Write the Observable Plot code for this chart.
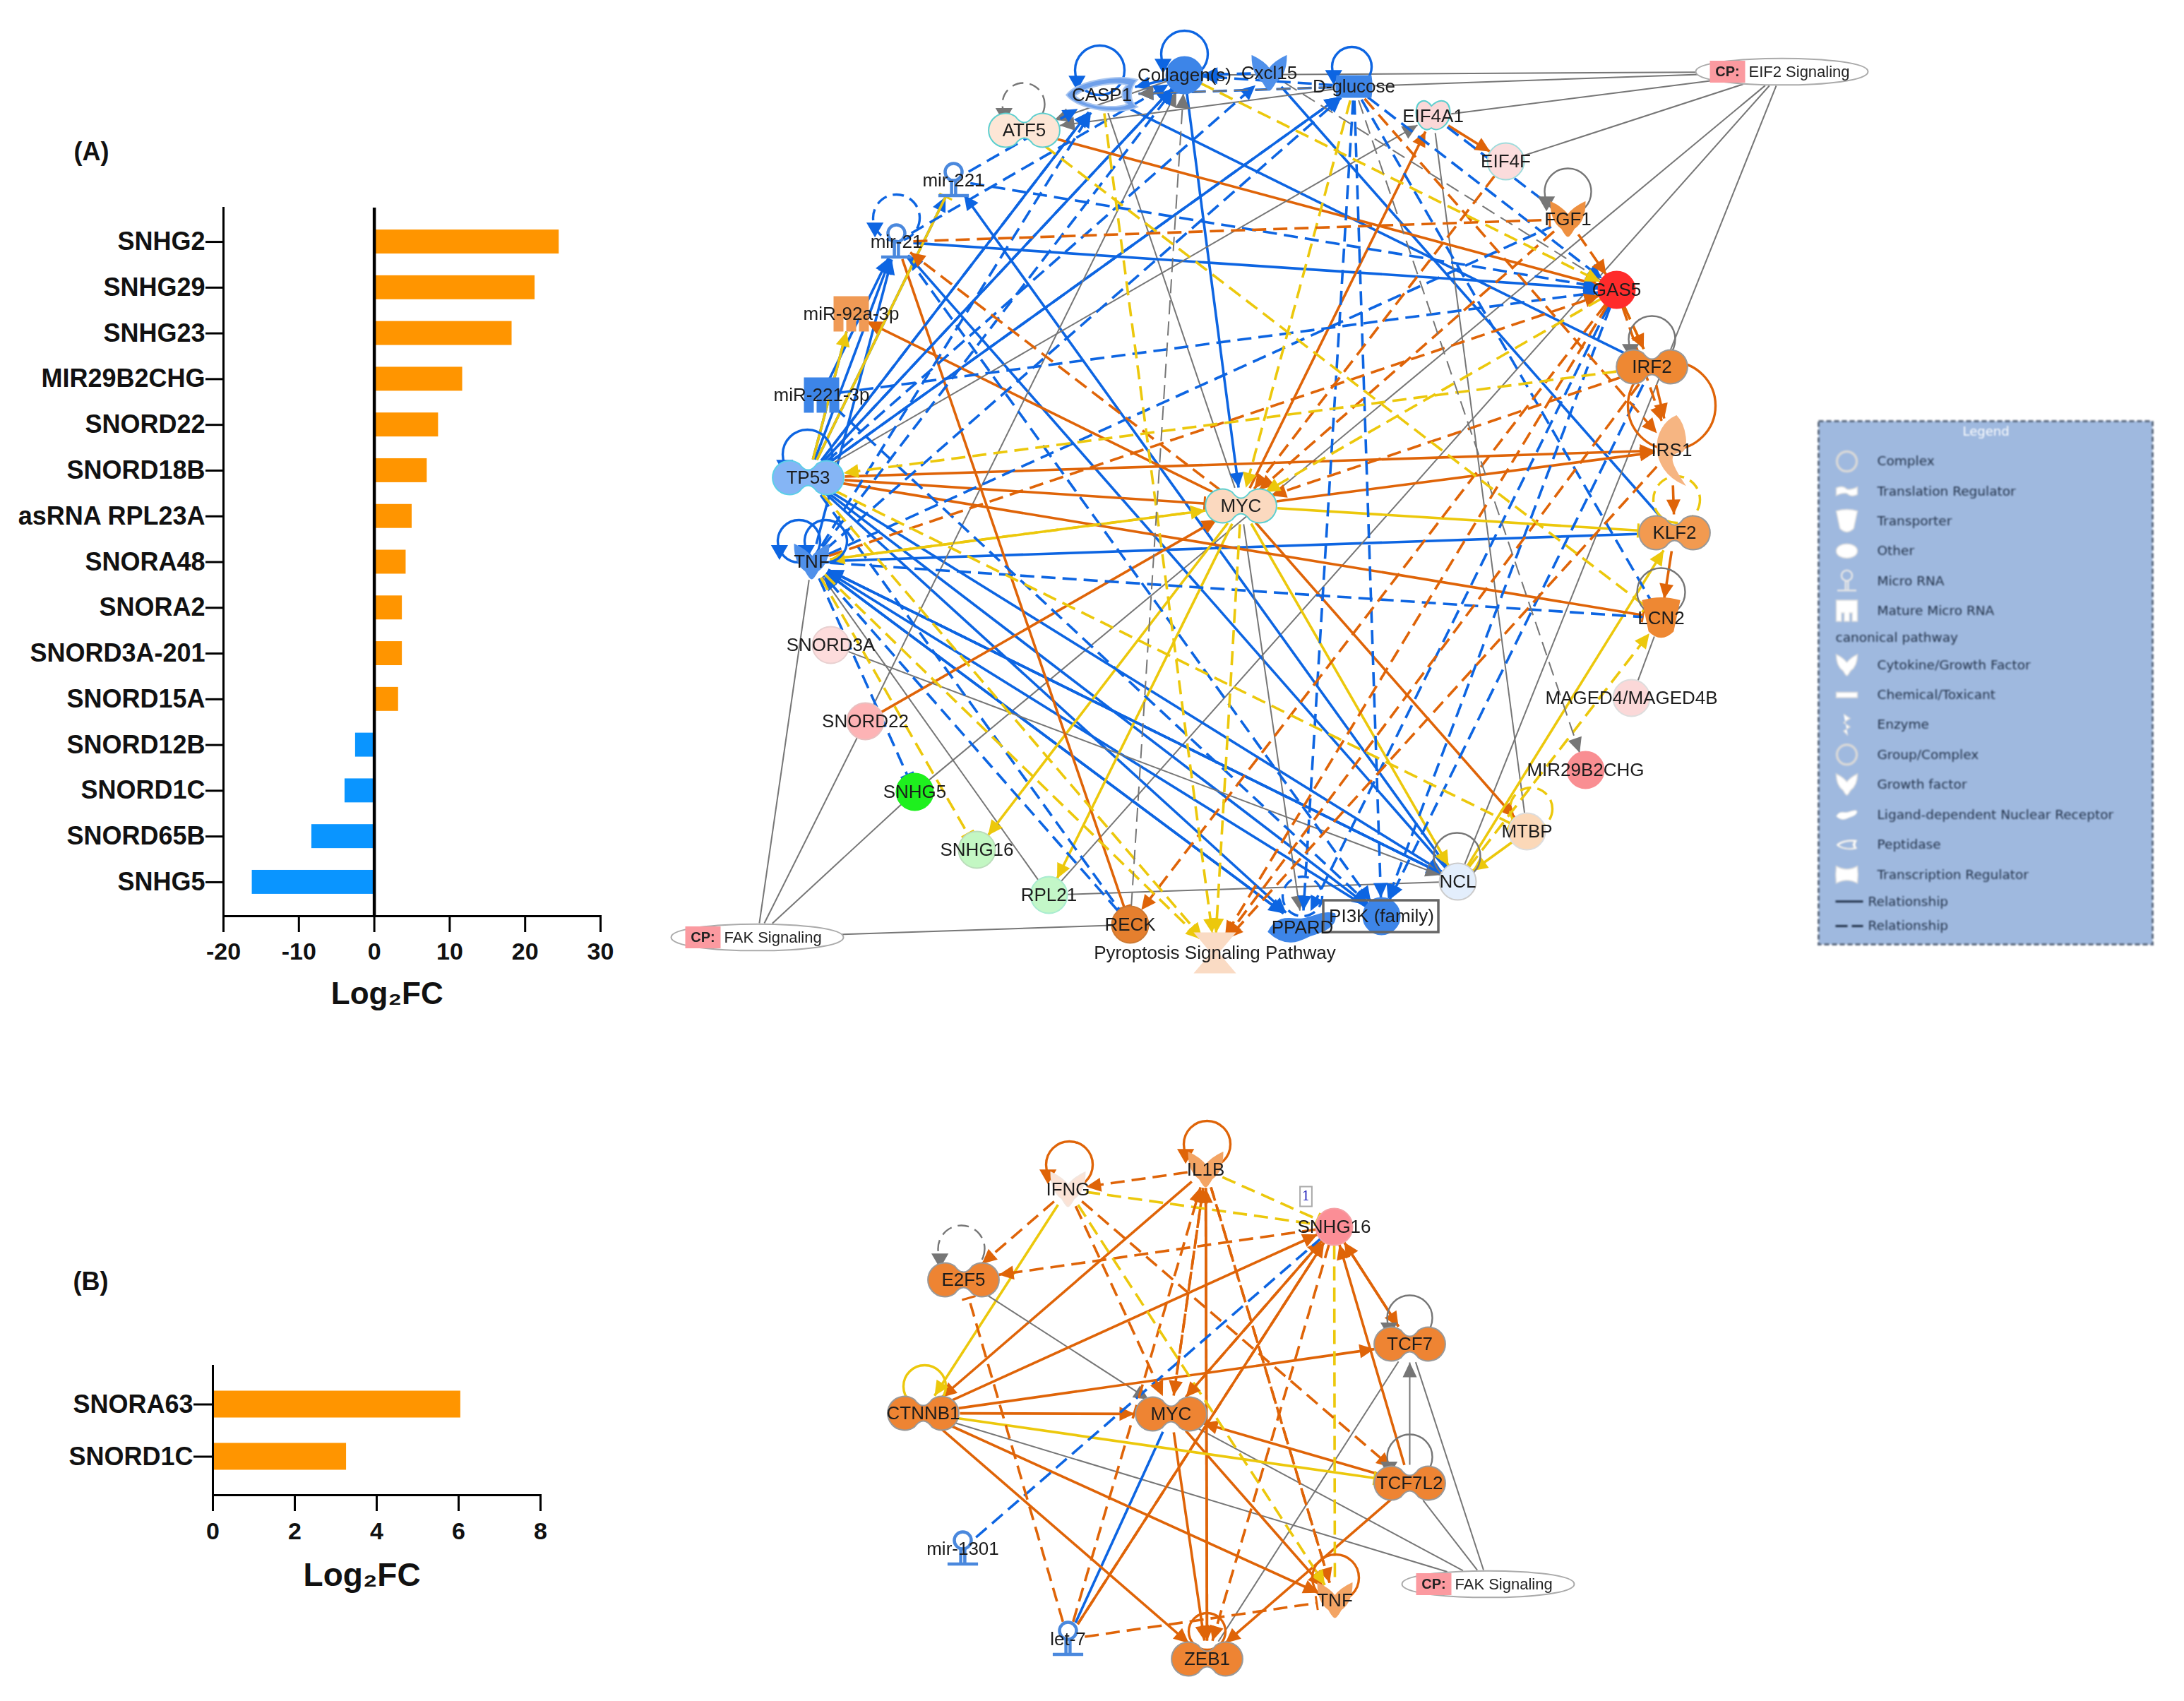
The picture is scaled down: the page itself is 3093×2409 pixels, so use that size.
<!DOCTYPE html>
<html><head><meta charset="utf-8">
<script src="https://cdn.jsdelivr.net/npm/d3@7"></script>
<script src="https://cdn.jsdelivr.net/npm/@observablehq/plot@0.6"></script>
<style>
html,body{margin:0;background:#fff}
#page{position:relative;width:3093px;height:2409px;overflow:hidden;background:#fff}
#page>svg{position:absolute;overflow:visible}
</style></head><body><div id="page"></div>
<script>
// ---------- bar chart data ----------
const barNamesA = ["SNHG2","SNHG29","SNHG23","MIR29B2CHG","SNORD22","SNORD18B","asRNA RPL23A","SNORA48","SNORA2","SNORD3A-201","SNORD15A","SNORD12B","SNORD1C","SNORD65B","SNHG5"];
const barValuesA = [24.5,21.3,18.25,11.7,8.5,7.0,5.0,4.2,3.7,3.7,3.2,-2.5,-3.9,-8.3,-16.2];
const ticksA = [-20,-10,0,10,20,30];
const barNamesB = ["SNORA63","SNORD1C"];
const barValuesB = [6.05,3.26];
const ticksB = [0,2,4,6,8];

// ---------- network A: id, label, x, y, shape, fill, outline ----------
const nodesA = [
["ATF5","ATF5",1450,184,"twin","#fde6d6","#5ccfcf"],
["CASP1","CASP1",1560,134,"peptidase","#6fa0ea","#a9c6f0"],
["COL","Collagen(s)",1677,106,"circle","#3d85e8","#3d85e8"],
["CXC","Cxcl15",1797,103,"cytokine","#4f90ea","#4f90ea"],
["GLU","D-glucose",1917,122,"chemical","#3d85e8","#3d85e8"],
["E4A","EIF4A1",2029,164,"peanut","#fbd8d8","#5ccfcf"],
["E4F","EIF4F",2132,228,"circle","#fbdcdc","#9fdcdc"],
["FGF1","FGF1",2220,310,"cytokine","#ee9040","#ee9040"],
["GAS5","GAS5",2289,410,"circle","#ff2b2b","#ff2b2b"],
["IRF2","IRF2",2339,519,"twin","#ee8833","#999999"],
["IRS1","IRS1",2367,637,"crescent","#f6b582","#f6b582"],
["KLF2","KLF2",2371,754,"twin","#f29a50","#999999"],
["LCN2","LCN2",2352,875,"cup","#ee8833","#ee8833"],
["MAG","MAGED4/MAGED4B",2310,988,"circle","#fbd8d8","#dddddd"],
["M29","MIR29B2CHG",2245,1090,"circle","#f98e92","#f98e92"],
["MTBP","MTBP",2162,1177,"circle","#fbd8b8","#dddddd"],
["NCL","NCL",2064,1248,"circle","#e3eefc","#cccccc"],
["PI3K","PI3K (family)",1956,1297,"circle","#3d85e8","#3d85e8"],
["PPARD","PPARD",1844,1313,"ligand","#3d85e8","#3d85e8"],
["PYR","Pyroptosis Signaling Pathway",1720,1349,"hourglass","#fadbc4","#fadbc4"],
["RECK","RECK",1600,1309,"circle","#e57f2e","#cc7a33"],
["RPL","RPL21",1485,1267,"circle","#c3f7c8","#a8ecd0"],
["S16","SNHG16",1383,1203,"circle","#c3f7c3","#bbddbb"],
["S5","SNHG5",1295,1121,"circle","#1ef01e","#1ef01e"],
["S22","SNORD22",1225,1021,"circle","#fdb3b5","#e8c0c0"],
["S3A","SNORD3A",1176,913,"circle","#fddcdc","#e8d0d0"],
["TNF","TNF",1149,795,"cytokine","#4f90ea","#4f90ea"],
["TP53","TP53",1144,676,"twin","#85b5f5","#5ccfe8"],
["M2213","miR-221-3p",1163,559,"mature","#3d85e8","#3d85e8"],
["M92","miR-92a-3p",1205,444,"mature","#f09a55","#f09a55"],
["M21","mir-21",1269,342,"mirna","none","#4a88dd"],
["M221","mir-221",1350,255,"mirna","none","#4a88dd"],
["MYC","MYC",1757,716,"twin","#fbd9bf","#5ccfcf"]
];
const cpNodesA = [["CPE","EIF2 Signaling",2523,101],["CPF","FAK Signaling",1072,1327]];
const framesA = [[1874,1275,2037,1320]];

// ---------- relationships: from, to, prediction, style, end ----------
const UP="activation", DN="inhibition", MX="inconsistent", NA="unpredicted";
const edgesA = [
["TP53","CASP1",DN,"s","a"],["TP53","COL",DN,"s","a"],["TP53","GLU",DN,"s","a"],["TP53","M21",DN,"s","a"],
["TP53","M221",DN,"s","a"],["TNF","M21",DN,"s","a"],["CASP1","IRF2",DN,"s","n"],["CXC","KLF2",DN,"s","n"],
["M21","GAS5",DN,"s","a"],["COL","MYC",DN,"s","a"],["NCL","M221",DN,"s","a"],["NCL","M21",DN,"s","a"],
["NCL","TNF",DN,"s","a"],["PPARD","TNF",DN,"s","a"],["PI3K","TNF",DN,"s","a"],["KLF2","TNF",DN,"s","n"],
["TP53","PI3K",DN,"s","a"],["TP53","PPARD",DN,"s","a"],["TP53","NCL",DN,"s","a"],["TNF","NCL",DN,"s","a"],
["TNF","PPARD",DN,"s","a"],["M2213","M21",DN,"s","a"],["TP53","M92",DN,"s","n"],
["M221","CASP1",DN,"d","a"],["M221","GAS5",DN,"d","a"],["M21","COL",DN,"d","a"],["TP53","GLU",DN,"d","a"],
["TP53","CXC",DN,"d","a"],["TP53","COL",DN,"d","a"],["TP53","CASP1",DN,"d","a"],["TNF","COL",DN,"d","a"],
["TNF","CASP1",DN,"d","a"],["TNF","GLU",DN,"d","a"],["M2213","GAS5",DN,"d","a"],["TNF","FGF1",DN,"d","n"],
["TNF","LCN2",DN,"d","n"],["TNF","S5",DN,"d","b"],["RECK","TNF",DN,"d","a"],["NCL","TNF",DN,"d","a"],
["GLU","PPARD",DN,"d","a"],["GLU","PI3K",DN,"d","a"],["GAS5","PI3K",DN,"d","a"],["IRF2","PI3K",DN,"d","a"],
["GAS5","PPARD",DN,"d","a"],["GLU","GAS5",DN,"d","a"],["E4A","FGF1",DN,"d","n"],["GLU","LCN2",DN,"d","n"],
["M21","PI3K",DN,"d","a"],["M2213","PI3K",DN,"d","a"],["TP53","RECK",DN,"d","n"],["GLU","CASP1",DN,"d","a"],
["COL","CASP1",DN,"s","a"],["CXC","COL",DN,"d","a"],["GLU","COL",DN,"d","a"],
["ATF5","GAS5",UP,"s","a"],["TP53","IRS1",UP,"s","a"],["TP53","LCN2",UP,"s","b"],["MYC","IRS1",UP,"s","a"],
["TP53","MYC",UP,"s","b"],["MYC","M92",UP,"s","a"],["M21","RECK",UP,"s","b"],["S22","MYC",UP,"s","a"],
["MYC","MTBP",UP,"s","a"],["MYC","E4A",UP,"s","a"],["IRS1","KLF2",UP,"s","a"],["KLF2","LCN2",UP,"s","a"],
["IRF2","IRS1",UP,"s","a"],["E4A","E4F",UP,"s","a"],
["TNF","GAS5",UP,"d","a"],["MYC","M21",UP,"d","a"],["M21","FGF1",UP,"d","b"],["E4F","MYC",UP,"d","a"],
["FGF1","GAS5",UP,"d","a"],["GAS5","IRF2",UP,"d","a"],["GAS5","RECK",UP,"d","a"],["IRF2","PYR",UP,"d","a"],
["IRS1","PYR",UP,"d","a"],["GAS5","PYR",UP,"d","a"],["GLU","IRS1",UP,"d","a"],["FGF1","MYC",UP,"d","a"],
["IRF2","MYC",UP,"d","a"],["GAS5","IRS1",UP,"d","a"],
["MYC","S16",MX,"s","a"],["MYC","RPL",MX,"s","a"],["TNF","MYC",MX,"s","a"],["MYC","KLF2",MX,"s","b"],
["MYC","NCL",MX,"s","a"],["NCL","KLF2",MX,"s","a"],["MTBP","NCL",MX,"s","a"],["TP53","M92",MX,"s","a"],
["TP53","M221",MX,"s","b"],
["TNF","S16",MX,"d","b"],["TNF","PYR",MX,"d","a"],["TP53","PYR",MX,"d","a"],["TP53","MTBP",MX,"d","b"],
["ATF5","LCN2",MX,"d","b"],["CASP1","PYR",MX,"d","a"],["COL","GAS5",MX,"d","a"],["GLU","MYC",MX,"d","a"],
["IRF2","TP53",MX,"d","a"],["GAS5","MYC",MX,"d","a"],["MYC","PYR",MX,"d","a"],["GAS5","IRF2",MX,"d","n"],
["NCL","LCN2",MX,"d","a"],["MYC","TNF",MX,"d","a"],
["CPE","E4A",NA,"s","n"],["CPE","GLU",NA,"s","n"],["CPE","COL",NA,"s","n"],["CPE","E4F",NA,"s","n"],
["CPE","RPL",NA,"s","n"],["CPE","NCL",NA,"s","n"],["CPE","S5",NA,"s","n"],
["CPF","TNF",NA,"s","n"],["CPF","S22",NA,"s","n"],["CPF","S5",NA,"s","n"],["CPF","RECK",NA,"s","n"],
["RPL","NCL",NA,"s","n"],["S22","COL",NA,"s","a"],["TP53","E4A",NA,"s","a"],["S3A","NCL",NA,"s","a"],
["TNF","RPL",NA,"s","n"],["E4A","MTBP",NA,"s","n"],["CASP1","MYC",NA,"s","n"],["MYC","PPARD",NA,"s","a"],
["GLU","ATF5",NA,"s","a"],["COL","ATF5",NA,"s","a"],["LCN2","MAG",NA,"s","n"],["RECK","COL",NA,"d","a"],
["GLU","M29",NA,"d","a"],["CXC","GAS5",NA,"d","n"],["TNF","S5",NA,"d","n"],["GLU","CASP1",NA,"d","a"]
];
// self-relationships: x, y, radius, prediction, style, has arrow
const loopsA = [
[1449,147,30,NA,"d",1],[1557,99,35,DN,"s",1],[1677,76,33,DN,"s",1],[1914,94,28,DN,"s",1],
[1143,643,35,DN,"s",1],[1269,308,33,DN,"d",1],[2220,271,33,NA,"s",1],[2339,480,33,NA,"s",1],
[2374,707,33,MX,"d",0],[2352,838,34,NA,"s",0],[2063,1212,33,NA,"s",0],[2168,1145,30,MX,"d",0],
[1844,1269,28,DN,"d",0],[1131,766,30,DN,"s",1],[1169,766,30,DN,"s",1],[2367,574,62,UP,"s",0]
];

// ---------- network B ----------
const nodesB = [
["IFNG","IFNG",1512,1684,"cytokine","#fbe3d6","#f3e6de"],
["IL1B","IL1B",1707,1656,"cytokine","#f3a464","#f3a464"],
["S16","SNHG16",1889,1737,"circle","#fb8e96","#f5a0a5"],
["E2F5","E2F5",1364,1812,"twin","#ee8433","#999999"],
["TCF7","TCF7",1996,1903,"twin","#ee8433","#999999"],
["CTNNB1","CTNNB1",1307,2001,"twin","#ee8433","#999999"],
["MYC","MYC",1658,2002,"twin","#ee8433","#999999"],
["TCF7L2","TCF7L2",1996,2100,"twin","#ee8433","#999999"],
["M1301","mir-1301",1363,2193,"mirna","none","#4a88dd"],
["TNF","TNF",1890,2266,"cytokine","#f3a464","#f3a464"],
["LET7","let-7",1512,2321,"mirna","none","#4a88dd"],
["ZEB1","ZEB1",1709,2349,"twin","#ee8433","#999999"]
];
const cpNodesB = [["CPF","FAK Signaling",2107,2243]];
const findingTagB = [["1",1849,1694]];
const edgesB = [
["IL1B","IFNG",UP,"d","a"],["IL1B","CTNNB1",UP,"s","a"],["LET7","IL1B",UP,"d","a"],["ZEB1","IL1B",UP,"s","a"],
["IL1B","ZEB1",UP,"s","a"],["MYC","IL1B",UP,"d","a"],["IL1B","TNF",UP,"d","a"],["IL1B","S16",MX,"d","b"],
["IFNG","S16",MX,"d","n"],["S16","E2F5",UP,"d","a"],["IFNG","E2F5",UP,"d","a"],["IFNG","CTNNB1",MX,"s","a"],
["IFNG","MYC",UP,"d","a"],["IFNG","TNF",MX,"d","a"],["IFNG","TCF7L2",UP,"d","a"],["E2F5","MYC",NA,"s","a"],
["CTNNB1","S16",UP,"s","a"],["CTNNB1","TCF7",UP,"s","a"],["CTNNB1","MYC",UP,"s","a"],["CTNNB1","TCF7L2",MX,"s","b"],
["CTNNB1","ZEB1",UP,"s","a"],["CTNNB1","TNF",UP,"s","a"],["CTNNB1","CPF",NA,"s","n"],["MYC","S16",UP,"s","a"],
["MYC","TNF",UP,"s","a"],["MYC","ZEB1",UP,"s","a"],["MYC","CPF",NA,"s","n"],["M1301","S16",DN,"d","n"],
["LET7","MYC",DN,"s","n"],["LET7","S16",UP,"s","a"],["LET7","E2F5",UP,"d","b"],["LET7","TNF",UP,"d","b"],
["TCF7L2","MYC",UP,"s","a"],["TCF7L2","S16",UP,"s","a"],["TCF7L2","ZEB1",UP,"s","a"],["TCF7L2","TCF7",NA,"s","a"],
["TCF7","S16",UP,"s","a"],["S16","TCF7",UP,"s","a"],["TCF7","ZEB1",NA,"s","n"],["CPF","TCF7",NA,"s","n"],
["CPF","TCF7L2",NA,"s","n"],["S16","TNF",MX,"d","n"],["S16","ZEB1",UP,"d","a"],["S16","LET7",UP,"d","n"],
["S16","MYC",UP,"d","a"],["IL1B","MYC",UP,"d","a"],["TNF","IL1B",UP,"d","n"]
];
const loopsB = [
[1514,1649,33,UP,"s",1],[1709,1620,33,UP,"s",1],[1361,1768,33,NA,"d",1],[1996,1866,32,NA,"s",1],
[1996,2063,32,NA,"s",1],[1309,1963,30,MX,"s",0],[1709,2310,26,UP,"s",0],[1891,2234,33,UP,"s",0]
];

// ---------- legend ----------
const legendTitle = "Legend";
const legendLabels = ["Complex","Translation Regulator","Transporter","Other","Micro RNA","Mature Micro RNA","canonical pathway","Cytokine/Growth Factor","Chemical/Toxicant","Enzyme","Group/Complex","Growth factor","Ligand-dependent Nuclear Receptor","Peptidase","Transcription Regulator","Relationship","Relationship"];
const legendRowPlace = [0,1,2,3,4,5,5.9,6.82,7.82,8.82,9.82,10.82,11.84,12.84,13.84,14.74,15.56];
const legendIcons = ["ring","wiggle","cup","ellipse","mirna","mature",null,"cytokine","dash","squiggle","ring","cytokine","ligand","peptidase","bowtie",null,null];

// ---------- shapes ----------
const rOf = s => Math.sqrt(s/Math.PI);
const shapes = {
 circle:d3.symbolCircle,
 ring:d3.symbolCircle,
 ellipse:{draw(c,s){const r=rOf(s);c.moveTo(r,0);c.bezierCurveTo(r,-.9*r,-r,-.9*r,-r,0);c.bezierCurveTo(-r,.9*r,r,.9*r,r,0);c.closePath();}},
 twin:{draw(c,s){const r=rOf(s),d=1.1*r,t=.95,cx=r*Math.cos(t),sy=r*Math.sin(t);
   c.moveTo(-d+cx,-sy);c.arc(-d,0,r,-t,t,true);c.quadraticCurveTo(0,.1*r,d-cx,sy);
   c.arc(d,0,r,Math.PI-t,-Math.PI+t,true);c.quadraticCurveTo(0,-.1*r,-d+cx,-sy);c.closePath();}},
 peanut:{draw(c,s){const r=rOf(s);c.moveTo(-.1*r,-.6*r);c.bezierCurveTo(-.4*r,-1.1*r,-r,-r,-r,-.2*r);c.bezierCurveTo(-r,.5*r,-.5*r,r,-.1*r,.7*r);
   c.bezierCurveTo(.3*r,r,r,.5*r,r,-.2*r);c.bezierCurveTo(r,-r,.4*r,-1.1*r,-.1*r,-.6*r);c.closePath();}},
 cytokine:{draw(c,s){const r=rOf(s);c.moveTo(-r,-r);c.quadraticCurveTo(-.35*r,-.7*r,0,-.25*r);c.quadraticCurveTo(.35*r,-.7*r,r,-r);
   c.quadraticCurveTo(r,.1*r,.35*r,.55*r);c.quadraticCurveTo(.1*r,r,0,r);c.quadraticCurveTo(-.1*r,r,-.35*r,.55*r);c.quadraticCurveTo(-r,.1*r,-r,-r);c.closePath();}},
 peptidase:{draw(c,s){const r=rOf(s);c.moveTo(-2.1*r,0);c.bezierCurveTo(-1.4*r,-.9*r,1*r,-1.2*r,2.1*r,-.9*r);c.bezierCurveTo(1.6*r,-.4*r,1.6*r,.4*r,2.1*r,.7*r);
   c.bezierCurveTo(1*r,1.2*r,-1.4*r,.9*r,-2.1*r,0);c.closePath();
   c.moveTo(-1.6*r,.05*r);c.bezierCurveTo(-.8*r,.75*r,.8*r,.8*r,1.5*r,.55*r);c.bezierCurveTo(1.1*r,.2*r,1.1*r,-.3*r,1.5*r,-.6*r);c.bezierCurveTo(.8*r,-.8*r,-.8*r,-.6*r,-1.6*r,.05*r);c.closePath();}},
 chemical:{draw(c,s){const r=rOf(s);c.moveTo(-r,-.62*r);c.lineTo(r,-.62*r);c.quadraticCurveTo(1.1*r,0,r,.62*r);c.lineTo(-r,.62*r);c.quadraticCurveTo(-1.1*r,0,-r,-.62*r);c.closePath();}},
 dash:{draw(c,s){const r=rOf(s);c.moveTo(-r,-.25*r);c.lineTo(r,-.25*r);c.lineTo(r,.25*r);c.lineTo(-r,.25*r);c.closePath();}},
 crescent:{draw(c,s){const r=rOf(s);c.moveTo(.3*r,-2.2*r);c.bezierCurveTo(-1.3*r,-1.5*r,-1.5*r,1.2*r,.8*r,2.2*r);c.bezierCurveTo(0,r,-.4*r,.2*r,.6*r,.1*r);c.bezierCurveTo(1.1*r,0,.9*r,-1.6*r,.3*r,-2.2*r);c.closePath();}},
 cup:{draw(c,s){const r=rOf(s);c.moveTo(-r,-r*.95);c.quadraticCurveTo(0,-1.25*r,r,-r*.95);c.lineTo(.65*r,.7*r);c.quadraticCurveTo(0,1.35*r,-.65*r,.7*r);c.closePath();}},
 hourglass:{draw(c,s){const r=rOf(s);c.moveTo(-r,-r);c.lineTo(r,-r);c.lineTo(.15*r,0);c.lineTo(r,r);c.lineTo(-r,r);c.lineTo(-.15*r,0);c.closePath();}},
 bowtie:{draw(c,s){const r=rOf(s);c.moveTo(-r,-.8*r);c.quadraticCurveTo(0,-.25*r,r,-.8*r);c.quadraticCurveTo(1.1*r,0,r,.8*r);c.quadraticCurveTo(0,.25*r,-r,.8*r);c.quadraticCurveTo(-1.1*r,0,-r,-.8*r);c.closePath();}},
 wiggle:{draw(c,s){const r=rOf(s);c.moveTo(-r,-.3*r);c.quadraticCurveTo(-.4*r,-.6*r,0,-.2*r);c.quadraticCurveTo(.4*r,-.1*r,r,-.4*r);c.lineTo(r,.3*r);c.quadraticCurveTo(.4*r,.6*r,0,.2*r);c.quadraticCurveTo(-.4*r,.1*r,-r,.4*r);c.closePath();}},
 squiggle:{draw(c,s){const r=rOf(s);c.moveTo(-.3*r,-r);c.lineTo(.3*r,-.6*r);c.lineTo(-.3*r,-.2*r);c.lineTo(.3*r,.2*r);c.lineTo(-.3*r,.6*r);c.lineTo(.1*r,r);}},
 ligand:{draw(c,s){const r=rOf(s);c.moveTo(-r*2,.25*r);c.bezierCurveTo(-1.4*r,-.9*r,-.5*r,-.4*r,0,-.5*r);c.bezierCurveTo(.7*r,-.6*r,1.2*r,-r,1.9*r,-.8*r);c.bezierCurveTo(2.1*r,0,1*r,.3*r,.4*r,.5*r);c.bezierCurveTo(-.2*r,.8*r,-1*r,1.2*r,-r*2,.25*r);c.closePath();}},
 mature:{draw(c,s){const r=rOf(s),w=.5*r;c.moveTo(-r,-r);c.lineTo(r,-r);c.lineTo(r,r);c.lineTo(r-w,r);c.lineTo(r-w,.2*r);c.lineTo(.25*r,.2*r);c.lineTo(.25*r,r);c.lineTo(-.25*r,r);c.lineTo(-.25*r,.2*r);c.lineTo(-r+w,.2*r);c.lineTo(-r+w,r);c.lineTo(-r,r);c.closePath();}},
 mirna:{draw(c,s){const r=rOf(s);c.moveTo(.5*r,-.5*r);c.arc(0,-.5*r,.5*r,0,2*Math.PI);c.moveTo(-.12*r,0);c.lineTo(-.12*r,.9*r);c.moveTo(.12*r,0);c.lineTo(.12*r,.9*r);c.moveTo(-.9*r,.9*r);c.lineTo(.9*r,.9*r);}},
 box:{draw(c,s){const r=rOf(s);c.moveTo(-r,-.62*r);c.lineTo(r,-.62*r);c.lineTo(r,.62*r);c.lineTo(-r,.62*r);c.closePath();}},
 tag:{draw(c,s){const r=rOf(s);c.moveTo(-.6*r,-r);c.lineTo(.6*r,-r);c.lineTo(.6*r,r);c.lineTo(-.6*r,r);c.closePath();}},
 wide:{draw(c,s){const r=rOf(s),k=.155*r;c.moveTo(r,0);c.bezierCurveTo(r,-k*1.33,-r,-k*1.33,-r,0);c.bezierCurveTo(-r,k*1.33,r,k*1.33,r,0);c.closePath();}}
};
const shapeSize = {circle:26,twin:24,peanut:24,cytokine:24,peptidase:24,chemical:24,crescent:22,cup:26,hourglass:28,ligand:24,mature:24,mirna:24};
const extent = {circle:[26,26],twin:[52,26],peanut:[26,24],cytokine:[26,26],peptidase:[52,26],chemical:[30,20],crescent:[24,50],cup:[26,28],hourglass:[28,28],ligand:[48,24],mature:[24,26],mirna:[24,26],cp:[120,20]};

// ---------- arrow / bar line ends ----------
const svgNS = "http://www.w3.org/2000/svg";
function lineEnd(kind){
  return (color, ctx) => {
    const m = ctx.document.createElementNS(svgNS,"marker");
    m.setAttribute("viewBox","-24 -14 28 28");
    m.setAttribute("markerWidth",28);m.setAttribute("markerHeight",28);
    m.setAttribute("markerUnits","userSpaceOnUse");m.setAttribute("orient","auto");
    m.setAttribute("refX",0);m.setAttribute("refY",0);
    const p = ctx.document.createElementNS(svgNS,"path");
    if (kind==="a"){p.setAttribute("d","M-21,-10L0,0L-21,10Z");p.setAttribute("fill",color);p.setAttribute("stroke","none");}
    else {p.setAttribute("d","M0,-10L0,10");p.setAttribute("fill","none");p.setAttribute("stroke",color);p.setAttribute("stroke-width",3);}
    m.appendChild(p);
    return m;
  };
}

const relDomain = [UP,DN,MX,NA];
const relRange = ["#df6408","#0d65e2","#ecc80c","#767676"];

function prepEdges(rows, nodes){
  const idx = new Map(nodes.map(n=>[n.id,n]));
  return rows.map(([a,b,rel,style,end])=>{
    const s=idx.get(a), t=idx.get(b);
    const dx=t.x-s.x, dy=t.y-s.y, L=Math.hypot(dx,dy), ux=dx/L, uy=dy/L;
    const hit=n=>{const [ea,eb]=extent[n.shape]; return 1/Math.hypot(ux/ea,uy/eb);};
    const ts=hit(s), te=hit(t);
    return {x1:s.x+ux*ts,y1:s.y+uy*ts,x2:t.x-ux*te,y2:t.y-uy*te,rel,style,end,w:rel===NA?2:3.6};
  });
}

function network(nodeRows, cpRows, edgeRows, loopRows, frames, tags, ox, oy, w, h){
  const nodes = nodeRows.map(([id,label,x,y,shape,fill,stroke])=>({id,label,x,y,shape,fill,stroke}));
  const cps = cpRows.map(([id,label,x,y])=>({id,label,x,y,shape:"cp"}));
  const edges = prepEdges(edgeRows,[...nodes,...cps]);
  const loops = loopRows.map(([x,y,r,rel,style,arrow])=>({x,y,r,rel,style,arrow}));
  const marks = [];
  for (const style of ["s","d"]) for (const end of ["n","a","b"]) {
    const sub = edges.filter(e=>e.style===style && e.end===end);
    if (!sub.length) continue;
    marks.push(Plot.link(sub,{x1:"x1",y1:"y1",x2:"x2",y2:"y2",stroke:"rel",strokeWidth:"w",
      strokeDasharray: style==="d"?"20,10":null, markerEnd: end==="n"?null:lineEnd(end)}));
  }
  for (const style of ["s","d"]) {
    const sub = loops.filter(l=>l.style===style);
    if (!sub.length) continue;
    marks.push(Plot.dot(sub,{x:"x",y:"y",r:"r",fill:"none",stroke:"rel",strokeWidth:d=>d.rel===NA?2.4:3.4,strokeDasharray:style==="d"?"16,9":null}));
  }
  marks.push(Plot.dot(loops.filter(l=>l.arrow),{x:d=>d.x-d.r*.92,y:d=>d.y+d.r*.42,r:9,symbol:"triangle",rotate:180,fill:"rel",stroke:null}));
  for (const shape of Object.keys(shapeSize)) {
    const sub = nodes.filter(n=>n.shape===shape);
    if (!sub.length) continue;
    const lineOnly = shape==="mirna";
    marks.push(Plot.dot(sub,{x:"x",y:"y",r:shapeSize[shape],symbol:shapes[shape],
      fill:lineOnly?"none":d=>d.fill,stroke:d=>d.stroke,strokeWidth:lineOnly?4.5:2}));
  }
  marks.push(Plot.dot(cps,{x:"x",y:"y",r:122,symbol:shapes.wide,fill:"#fff",stroke:"#aaa",strokeWidth:2}));
  marks.push(Plot.dot(cps,{x:"x",y:"y",dx:-77,r:25,symbol:shapes.box,fill:"#fb9aa0",stroke:null}));
  marks.push(Plot.text(cps,{x:"x",y:"y",dx:-77,text:()=>"CP:",fontWeight:"bold",fontSize:20,fill:"#222"}));
  marks.push(Plot.text(cps,{x:"x",y:"y",dx:-47,text:"label",textAnchor:"start",fontSize:22,fill:"#222"}));
  if (frames.length) marks.push(Plot.rect(frames,{x1:d=>d[0],y1:d=>d[1],x2:d=>d[2],y2:d=>d[3],fill:null,stroke:"#666",strokeWidth:3.5}));
  if (tags.length) {
    marks.push(Plot.dot(tags,{x:d=>d[1],y:d=>d[2],r:14,symbol:shapes.tag,fill:"#fff",stroke:"#aaa",strokeWidth:2}));
    marks.push(Plot.text(tags,{x:d=>d[1],y:d=>d[2],text:d=>d[0],fontSize:18,fill:"#2222bb",fontFamily:"DejaVu Serif"}));
  }
  marks.push(Plot.text(nodes,{x:"x",y:"y",text:"label",fontSize:26,fill:"#1c1c1c"}));
  return Plot.plot({width:w,height:h,margin:0,
    x:{domain:[ox,ox+w],range:[0,w],axis:null},
    y:{domain:[oy,oy+h],range:[0,h],axis:null},
    color:{domain:relDomain,range:relRange},
    r:{type:"identity"},
    style:{fontFamily:"'Liberation Sans',Arial,sans-serif",background:"transparent"},
    marks});
}

function barPanel({names,values,ticks,domain,left,top,w,h,mt,mb,ml,mr,padding,pOuter,labelAt,labelDy,labelSize,panel,panelDx,panelDy,zeroRule,labelFont,tickPad}){
  const rows = names.map((name,i)=>({name,value:values[i],dir:values[i]>0?"up":"down"}));
  const marks = [
    Plot.barX(rows,{x:"value",y:"name",fill:"dir"}),
    Plot.frame({anchor:"left",stroke:"#000",strokeWidth:3}),
    Plot.frame({anchor:"bottom",stroke:"#000",strokeWidth:3}),
    Plot.axisY({tickSize:ml-labelFont,tickPadding:1,fontSize:36,fontWeight:"bold",strokeWidth:3,stroke:"#000",fill:"#111",label:null}),
    Plot.axisX({ticks,tickSize:23,tickPadding:tickPad,fontSize:34,fontWeight:"bold",strokeWidth:3,stroke:"#000",fill:"#111",tickFormat:d=>String(d),label:null}),
    Plot.text(["Log₂FC"],{x:[labelAt],frameAnchor:"bottom",dy:labelDy,fontSize:labelSize,fontWeight:"bold",fill:"#111",lineAnchor:"middle"}),
    Plot.text([panel],{frameAnchor:"top-left",dx:panelDx,dy:panelDy,fontSize:36,fontWeight:"bold",fill:"#111",textAnchor:"middle",lineAnchor:"middle"})
  ];
  if (zeroRule) marks.splice(1,0,Plot.ruleX([0],{stroke:"#000",strokeWidth:4.5}));
  const svg = Plot.plot({width:w,height:h,marginTop:mt,marginBottom:mb,marginLeft:ml,marginRight:mr,
    x:{domain,axis:null},
    y:{domain:names,type:"band",padding,paddingOuter:pOuter,round:false,axis:null},
    color:{domain:["up","down"],range:["#ff9500","#0a95ff"]},
    style:{fontFamily:"'Liberation Sans',Arial,sans-serif",background:"transparent"},
    marks});
  svg.style.left=left+"px";svg.style.top=top+"px";
  return svg;
}

function legend(){
  const ox=2575, oy=596, w=473, h=741;
  const rows = legendLabels.map((label,i)=>({label,row:legendRowPlace[i],icon:legendIcons[i]}));
  const marks = [
    Plot.frame({fill:"#9fb9df",stroke:"#5d6b80",strokeWidth:3,strokeDasharray:"7,4"}),
    Plot.text([legendTitle],{x:[2812],y:[-1],fontSize:18,fill:"#fff",fontFamily:"'DejaVu Sans'"})
  ];
  const iconStyle = {ring:{fill:"none",stroke:"#d8d8d8",strokeWidth:3.5,r:14},mirna:{fill:"none",stroke:"#e6e6e6",strokeWidth:2.5,r:15},peptidase:{fill:"#fff",stroke:"#ddd",strokeWidth:1,r:7},ligand:{fill:"#fff",stroke:"#ddd",strokeWidth:1,r:7.5}};
  for (const icon of new Set(legendIcons.filter(Boolean))) {
    const st = iconStyle[icon]||{fill:"#fff",stroke:"#dcdcdc",strokeWidth:1.5,r:15};
    marks.push(Plot.dot(rows.filter(d=>d.icon===icon),{x:()=>2615,y:"row",symbol:shapes[icon],...st}));
  }
  const items = rows.filter(d=>d.icon);
  marks.push(Plot.text(items,{x:()=>2658,y:"row",text:"label",textAnchor:"start",fontSize:18.5,fill:"#22324a",fontFamily:"'DejaVu Sans'"}));
  marks.push(Plot.text(rows.filter(d=>d.label==="canonical pathway"),{x:()=>2599,y:"row",text:"label",textAnchor:"start",fontSize:18.5,fill:"#22324a",fontFamily:"'DejaVu Sans'"}));
  const rel = rows.filter(d=>d.label==="Relationship");
  marks.push(Plot.text(rel,{x:()=>2645,y:"row",text:"label",textAnchor:"start",fontSize:18.5,fill:"#22324a",fontFamily:"'DejaVu Sans'"}));
  marks.push(Plot.link(rel.slice(0,1),{x1:()=>2599,x2:()=>2638,y1:"row",y2:"row",stroke:"#22324a",strokeWidth:3}));
  marks.push(Plot.link(rel.slice(1),{x1:()=>2599,x2:()=>2638,y1:"row",y2:"row",stroke:"#22324a",strokeWidth:3,strokeDasharray:"17,6"}));
  const svg = Plot.plot({width:w,height:h,margin:0,
    x:{domain:[ox,ox+w],range:[0,w],axis:null},
    y:{domain:[0,15.56],range:[57,715],axis:null},
    r:{type:"identity"},
    style:{background:"transparent"},marks});
  svg.style.left=ox+"px";svg.style.top=oy+"px";svg.style.filter="blur(1px)";
  return svg;
}

const page = document.getElementById("page");
page.append(barPanel({names:barNamesA,values:barValuesA,ticks:ticksA,domain:[-20,30],left:0,top:152,w:950,h:1300,mt:142,mb:155,ml:316,mr:100,padding:.476,pOuter:.48,labelAt:1.7,labelDy:110,labelSize:44,panel:"(A)",panelDx:-187,panelDy:-79,zeroRule:true,labelFont:291,tickPad:14}));
page.append(barPanel({names:barNamesB,values:barValuesB,ticks:ticksB,domain:[0,8],left:0,top:1780,w:850,h:520,mt:154,mb:183,ml:301,mr:85,padding:.486,pOuter:.48,labelAt:3.64,labelDy:114,labelSize:46,panel:"(B)",panelDx:-173,panelDy:-119,zeroRule:false,labelFont:274,tickPad:15}));
const netA = network(nodesA,cpNodesA,edgesA,loopsA,framesA,[],940,0,1640,1420);
netA.style.left="940px";netA.style.top="0px";netA.style.filter="blur(.6px)";
page.append(netA);
const netB = network(nodesB,cpNodesB,edgesB,loopsB,[],findingTagB,1200,1560,1100,849);
netB.style.left="1200px";netB.style.top="1560px";netB.style.filter="blur(.6px)";
page.append(netB);
page.append(legend());
</script></body></html>
